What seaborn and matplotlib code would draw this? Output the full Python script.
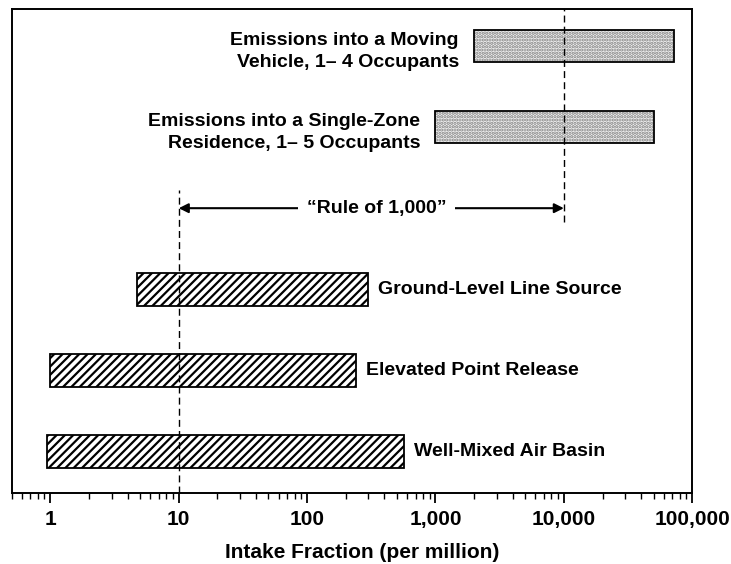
import numpy as np
import pandas as pd
import matplotlib
matplotlib.use("Agg")
import matplotlib.pyplot as plt
import matplotlib.ticker as mticker
import seaborn as sns

# ---------------------------------------------------------------------------
# DATA (intake fraction ranges, per million)
# ---------------------------------------------------------------------------
sources = [
    "Well-Mixed Air Basin",
    "Elevated Point Release",
    "Ground-Level Line Source",
    "Emissions into a Single-Zone\nResidence, 1\u2013 5 Occupants",
    "Emissions into a Moving\nVehicle, 1\u2013 4 Occupants",
]
low = [0.94, 1.0, 4.75, 1000, 2000]
high = [570, 240, 300, 50000, 72000]
slot = [0, 1, 2, 4, 5]
indoor = [False, False, False, True, True]

rule_low, rule_high = 10, 10000
rule_slot = 3
tick_values = [1, 10, 100, 1000, 10000, 100000]

df = pd.DataFrame({"source": sources, "low": low, "high": high,
                   "slot": slot, "indoor": indoor})
df["width"] = df["high"] - df["low"]

# ---------------------------------------------------------------------------
# STYLE
# ---------------------------------------------------------------------------
sns.set_theme(style="ticks")
plt.rcParams["font.family"] = ["Liberation Sans", "DejaVu Sans"]
plt.rcParams["font.weight"] = "bold"
plt.rcParams["text.color"] = "black"
plt.rcParams["axes.labelcolor"] = "black"
plt.rcParams["xtick.color"] = "black"
plt.rcParams["hatch.linewidth"] = 1.6

fig = plt.figure(figsize=(7.31, 5.64), dpi=100)
ax = fig.add_axes([0.016, 0.126, 0.931, 0.858])
ax.set_xscale("log")
ax.set_xlim(0.5, 100000)
ax.set_ylim(-0.51, 5.455)

bar_h = 0.40

# outdoor bars: diagonal hatch
out = df[~df["indoor"]]
ax.barh(out["slot"], out["width"], left=out["low"], height=bar_h,
        facecolor="white", edgecolor="black", hatch="////", linewidth=1.3, zorder=3)

# indoor bars: light stipple, drawn as hatch layer + black outline
ind = df[df["indoor"]]
ax.barh(ind["slot"], ind["width"], left=ind["low"], height=bar_h,
        facecolor="#f2f2f2", edgecolor="#808080", hatch=".....", linewidth=0, zorder=3)
ax.barh(ind["slot"], ind["width"], left=ind["low"], height=bar_h,
        facecolor="none", edgecolor="black", linewidth=1.3, zorder=4)

# labels
for _, r in df.iterrows():
    if r["indoor"]:
        ax.annotate(r["source"], xy=(r["low"], r["slot"]), xytext=(-11, -4),
                    textcoords="offset points", ha="right", va="center",
                    fontsize=14, fontweight="bold", linespacing=1.35)
    else:
        ax.annotate(r["source"], xy=(r["high"], r["slot"]), xytext=(7, 0),
                    textcoords="offset points", ha="left", va="center",
                    fontsize=14, fontweight="bold")

# reference dashed lines
ax.vlines(rule_low, -0.51, 3.23, colors="black", linestyles=(0, (5, 3)),
          linewidth=1.0, zorder=5)
ax.vlines(rule_high, 2.83, 5.455, colors="black", linestyles=(0, (5, 3)),
          linewidth=1.0, zorder=5)

# "Rule of 1,000" arrow
ax.annotate("", xy=(rule_low, rule_slot), xytext=(rule_high, rule_slot),
            arrowprops=dict(arrowstyle="<|-|>", color="black", lw=1.5,
                            mutation_scale=14, shrinkA=0, shrinkB=0))
ax.text(np.sqrt(rule_low * rule_high) * 1.1, rule_slot, "\u201cRule of 1,000\u201d",
        ha="center", va="center", fontsize=14, fontweight="bold",
        bbox=dict(facecolor="white", edgecolor="none", pad=6), zorder=6)

# axes
ax.set_yticks([])
ax.set_xticks(tick_values)
ax.xaxis.set_major_formatter(mticker.FuncFormatter(lambda v, p: f"{v:,.0f}"))
ax.xaxis.set_minor_locator(mticker.LogLocator(base=10, subs=np.arange(2, 10)))
ax.xaxis.set_minor_formatter(mticker.NullFormatter())
ax.tick_params(axis="x", which="major", direction="out", length=7, width=1.3,
               labelsize=15, pad=5, colors="black")
ax.tick_params(axis="x", which="minor", direction="out", length=4, width=1.0)
for side in ["left", "right", "top", "bottom"]:
    ax.spines[side].set_visible(True)
    ax.spines[side].set_linewidth(1.4)
    ax.spines[side].set_color("black")
ax.set_xlabel("Intake Fraction (per million)", fontsize=15, fontweight="bold")
ax.xaxis.set_label_coords(0.515, -0.103)

fig.savefig("out.png", dpi=100, facecolor="white")
